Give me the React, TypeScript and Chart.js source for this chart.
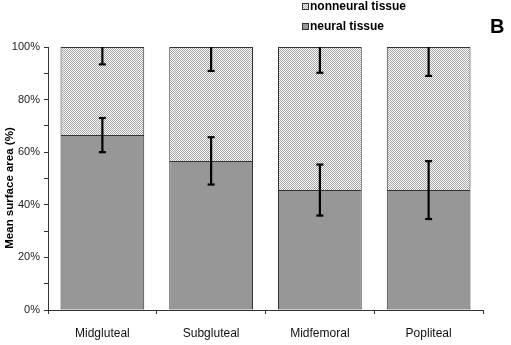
import React, { useEffect, useRef } from 'react';
import { Chart, registerables } from 'chart.js';
Chart.register(...registerables);

const categories = ['Midgluteal', 'Subgluteal', 'Midfemoral', 'Popliteal'];
const neural = [66.5, 56.7, 45.6, 45.6];
const nonneural = [33.5, 43.3, 54.4, 54.4];
const neuralErr = [6.5, 9.0, 9.7, 11.0];
const nonneuralErr = [6.6, 9.1, 9.8, 11.0];
const legendLabels = ['nonneural tissue', 'neural tissue'];
const yTitle = 'Mean surface area (%)';
const panelLetter = 'B';

const FONT = 'Arial, "Liberation Sans", sans-serif';
const GRAY = '#979797';

function makePattern(): CanvasPattern | string {
  const c = document.createElement('canvas');
  c.width = 2;
  c.height = 2;
  const g = c.getContext('2d');
  if (!g) return '#d8d8d8';
  g.fillStyle = '#fbfbfb';
  g.fillRect(0, 0, 2, 2);
  g.fillStyle = '#a6a6a6';
  g.fillRect(0, 0, 1, 1);
  g.fillRect(1, 1, 1, 1);
  const p = g.createPattern(c, 'repeat');
  return p || '#d8d8d8';
}

export default function App() {
  const ref = useRef<HTMLCanvasElement>(null);
  useEffect(() => {
    if (!ref.current) return;
    const pattern = makePattern();

    const extras = {
      id: 'extras',
      afterDatasetsDraw(chart: any) {
        const ctx = chart.ctx;
        const xs = chart.scales.x;
        const ys = chart.scales.y;
        ctx.save();
        ctx.strokeStyle = '#000';
        ctx.lineWidth = 2.2;
        const cap = 3.5;
        const line = (x1: number, y1: number, x2: number, y2: number) => {
          ctx.beginPath();
          ctx.moveTo(x1, y1);
          ctx.lineTo(x2, y2);
          ctx.stroke();
        };
        categories.forEach((_, i) => {
          const x = xs.getPixelForValue(i);
          const yTop = ys.getPixelForValue(neural[i] + neuralErr[i]);
          const yBot = ys.getPixelForValue(neural[i] - neuralErr[i]);
          line(x, yTop, x, yBot);
          line(x - cap, yTop, x + cap, yTop);
          line(x - cap, yBot, x + cap, yBot);
          const total = neural[i] + nonneural[i];
          const yT = ys.getPixelForValue(total);
          const yL = ys.getPixelForValue(total - nonneuralErr[i]);
          line(x, yT, x, yL);
          line(x - cap, yL, x + cap, yL);
        });
        ctx.restore();
      },
      afterDraw(chart: any) {
        const ctx = chart.ctx;
        ctx.save();
        ctx.fillStyle = '#000';
        ctx.font = `bold 11.5px ${FONT}`;
        ctx.textAlign = 'center';
        ctx.textBaseline = 'middle';
        ctx.translate(10, 188);
        ctx.rotate(-Math.PI / 2);
        ctx.fillText(yTitle, 0, 0);
        ctx.setTransform(1, 0, 0, 1, 0, 0);
        const items = [
          { label: legendLabels[0], fill: pattern, y: 6 },
          { label: legendLabels[1], fill: GRAY, y: 26 },
        ];
        items.forEach((it) => {
          ctx.fillStyle = it.fill as any;
          ctx.fillRect(302.5, it.y - 2.5, 6, 6);
          ctx.strokeStyle = '#333';
          ctx.lineWidth = 1;
          ctx.strokeRect(302.5, it.y - 2.5, 6, 6);
          ctx.fillStyle = '#000';
          ctx.font = `bold 12px ${FONT}`;
          ctx.textAlign = 'left';
          ctx.textBaseline = 'middle';
          ctx.fillText(it.label, 310, it.y + 1);
        });
        ctx.font = `bold 20px ${FONT}`;
        ctx.textAlign = 'left';
        ctx.textBaseline = 'middle';
        ctx.fillText(panelLetter, 490, 27);
        ctx.restore();
      },
    };

    const chart = new Chart(ref.current, {
      type: 'bar',
      data: {
        labels: categories,
        datasets: [
          {
            label: legendLabels[1],
            data: neural,
            backgroundColor: GRAY,
            borderColor: '#333',
            borderWidth: 1,
            borderSkipped: false,
            barPercentage: 0.77,
            categoryPercentage: 1,
          },
          {
            label: legendLabels[0],
            data: nonneural,
            backgroundColor: pattern as any,
            borderColor: '#333',
            borderWidth: { top: 1, left: 1, right: 1, bottom: 0 },
            borderSkipped: false,
            barPercentage: 0.77,
            categoryPercentage: 1,
          },
        ],
      },
      options: {
        responsive: false,
        animation: false,
        devicePixelRatio: 1,
        layout: { padding: { top: 47, right: 28, bottom: 0, left: 0 } },
        plugins: { legend: { display: false }, tooltip: { enabled: false } },
        scales: {
          x: {
            stacked: true,
            afterFit: (s: any) => { s.height = 35; },
            grid: { drawOnChartArea: false, color: '#333', tickLength: 4, offset: true },
            border: { display: true, color: '#333', width: 1 },
            ticks: { color: '#111', font: { family: FONT, size: 12 }, padding: 12 },
          },
          y: {
            stacked: true,
            min: 0,
            max: 100,
            afterFit: (s: any) => { s.width = 48; },
            grid: { drawOnChartArea: false, color: '#333', tickLength: 4 },
            border: { display: true, color: '#333', width: 1 },
            ticks: {
              stepSize: 10,
              color: '#222',
              font: { family: FONT, size: 11 },
              padding: 4,
              callback: (v: any) => (Number(v) % 20 === 0 ? `${v}%` : ''),
            },
          },
        },
      },
      plugins: [extras],
    });
    return () => chart.destroy();
  }, []);

  return (
    <div style={{ position: 'absolute', left: 0, top: 0, width: 511, height: 345, background: '#fff' }}>
      <canvas ref={ref} width={511} height={345} />
    </div>
  );
}
